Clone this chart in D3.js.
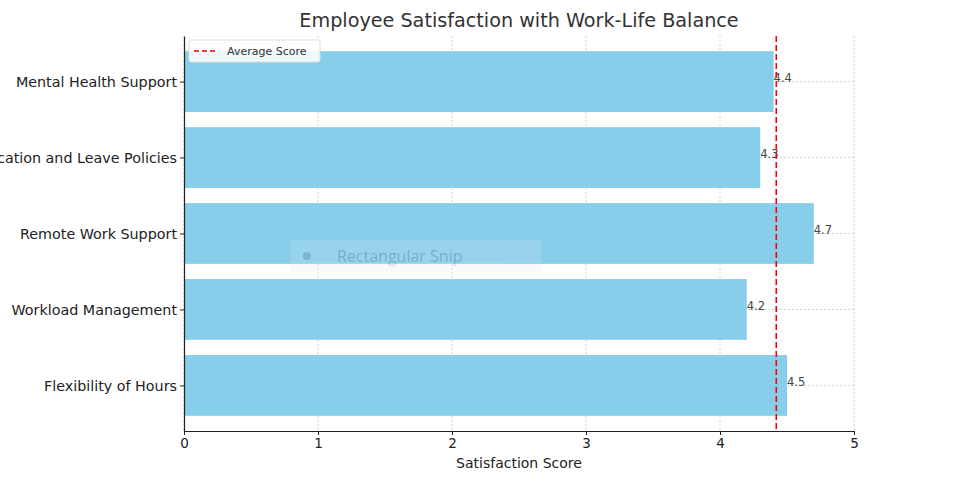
<!DOCTYPE html>
<html lang="en">
<head>
<meta charset="UTF-8">
<title>Employee Satisfaction with Work-Life Balance</title>
<script src="https://d3js.org/d3.v7.min.js"></script>
<style>
  body { margin: 0; background: #fff; }
  svg { font-family: "DejaVu Sans", sans-serif; display: block; }
</style>
</head>
<body>
<div id="chart"></div>
<script>
// categories listed bottom to top, as in the plot
const categories = ["Flexibility of Hours", "Workload Management", "Remote Work Support",
                    "Vacation and Leave Policies", "Mental Health Support"];
const scores = [4.5, 4.2, 4.7, 4.3, 4.4];
const xTicks = [0, 1, 2, 3, 4, 5];
const avgScore = d3.mean(scores);

const width = 977, height = 481;
const margin = { left: 184, right: 123, top: 36, bottom: 50 };

const svg = d3.select("#chart").append("svg")
    .attr("width", width).attr("height", height);

const x = d3.scaleLinear().domain([0, 5]).range([margin.left, width - margin.right]);
// matplotlib-like padding: -0.6 .. n-0.4
const y = d3.scaleLinear().domain([-0.6, categories.length - 0.4])
    .range([height - margin.bottom, margin.top]);
const barH = (y(0) - y(0.8));

// grid
const grid = svg.append("g").attr("stroke", "#c8c8c8").attr("stroke-dasharray", "2,2").attr("stroke-width", 0.8);
xTicks.forEach(t => {
  grid.append("line").attr("x1", x(t)).attr("x2", x(t))
      .attr("y1", y(categories.length - 0.4)).attr("y2", y(-0.6));
});
categories.forEach((c, i) => {
  grid.append("line").attr("x1", x(0)).attr("x2", x(5))
      .attr("y1", y(i)).attr("y2", y(i));
});

// bars
svg.append("g").selectAll("rect").data(categories).join("rect")
    .attr("x", x(0))
    .attr("y", (d, i) => y(i) - barH / 2)
    .attr("width", (d, i) => x(scores[i]) - x(0))
    .attr("height", barH)
    .attr("fill", "#87ceeb");

// value labels
svg.append("g").selectAll("text").data(scores).join("text")
    .attr("x", d => x(d))
    .attr("y", (d, i) => y(i))
    .attr("dy", "0.05em")
    .attr("font-size", 11.5)
    .attr("fill", "#444")
    .text(d => d.toFixed(1));

// average line
svg.append("line")
    .attr("x1", x(avgScore)).attr("x2", x(avgScore))
    .attr("y1", y(categories.length - 0.4)).attr("y2", y(-0.6))
    .attr("stroke", "red").attr("stroke-width", 1.6)
    .attr("stroke-dasharray", "6,3");

// axes
const xAxis = svg.append("g")
    .attr("transform", `translate(0,${y(-0.6)})`)
    .call(d3.axisBottom(x).tickValues(xTicks).tickFormat(d3.format("d")).tickSize(4).tickSizeOuter(0));
xAxis.select(".domain").attr("stroke", "#222").attr("stroke-width", 1.2);
xAxis.selectAll("text").attr("font-size", 13.5).attr("fill", "#222").attr("font-family", "DejaVu Sans");
xAxis.selectAll(".tick line").attr("stroke", "#222");

const yAxis = svg.append("g")
    .attr("transform", `translate(${x(0)},0)`)
    .call(d3.axisLeft(y).tickValues(d3.range(categories.length)).tickFormat(i => categories[i]).tickSize(4).tickSizeOuter(0));
yAxis.select(".domain").attr("stroke", "#222").attr("stroke-width", 1.2);
yAxis.selectAll("text").attr("font-size", 14.3).attr("fill", "#222").attr("font-family", "DejaVu Sans");
yAxis.selectAll(".tick line").attr("stroke", "#222");

// axis label and title
svg.append("text")
    .attr("x", (x(0) + x(5)) / 2).attr("y", 468)
    .attr("text-anchor", "middle").attr("font-size", 14).attr("fill", "#222")
    .text("Satisfaction Score");

svg.append("text")
    .attr("x", (x(0) + x(5)) / 2).attr("y", 27)
    .attr("text-anchor", "middle").attr("font-size", 19.2).attr("fill", "#333")
    .text("Employee Satisfaction with Work-Life Balance");

// legend
const lg = svg.append("g").attr("transform", "translate(189,40)");
lg.append("rect").attr("width", 131).attr("height", 22).attr("rx", 2)
    .attr("fill", "#fff").attr("fill-opacity", 0.85).attr("stroke", "#ddd");
lg.append("line").attr("x1", 5).attr("x2", 27).attr("y1", 11).attr("y2", 11)
    .attr("stroke", "red").attr("stroke-width", 1.6).attr("stroke-dasharray", "5,3");
lg.append("text").attr("x", 38).attr("y", 15).attr("font-size", 11).attr("fill", "#333")
    .text("Average Score");

// faint screen-capture overlay seen in the reference
const snip = svg.append("g").attr("transform", "translate(290,240)").attr("opacity", 0.2);
snip.append("rect").attr("width", 252).attr("height", 32).attr("fill", "#dde8f5");
snip.append("circle").attr("cx", 17).attr("cy", 16).attr("r", 4).attr("fill", "#556");
snip.append("text").attr("x", 47).attr("y", 22).attr("font-size", 16).attr("fill", "#334")
    .attr("font-family", "Open Sans, sans-serif").text("Rectangular Snip");
</script>
</body>
</html>
